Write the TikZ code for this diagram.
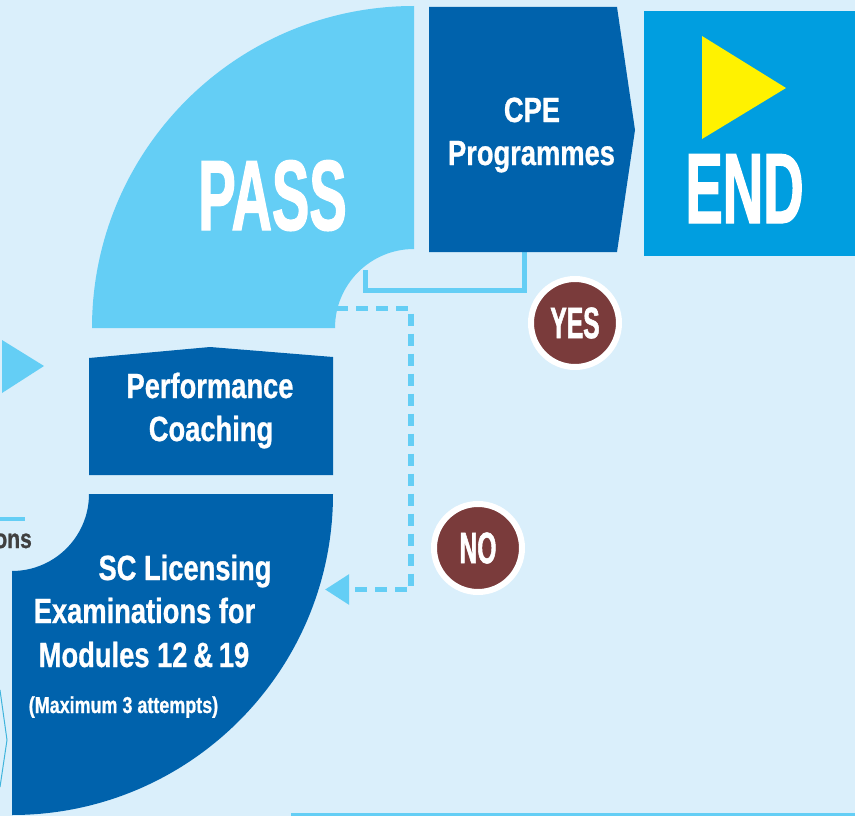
\documentclass[tikz,border=0pt]{standalone}
\usepackage{fontspec}
\setmainfont{Liberation Sans}
\newfontfamily\condfont[FakeStretch=0.78,FakeBold=0.8]{Liberation Sans}
\newfontfamily\tallfont[FakeStretch=0.56,FakeBold=1.2]{Liberation Sans}
\usetikzlibrary{arrows.meta}
\definecolor{bgblue}{HTML}{DAEFFB}
\definecolor{passblue}{HTML}{64CEF5}
\definecolor{darkblue}{HTML}{0062AC}
\definecolor{endblue}{HTML}{009EE0}
\definecolor{endyellow}{HTML}{FFF200}
\definecolor{answerbrown}{HTML}{7A3B3B}
\definecolor{onsgray}{HTML}{404040}
\definecolor{edgecyan}{HTML}{3FB4DC}
\begin{document}
\begin{tikzpicture}[x=1pt,y=-1pt,
    lbl/.style={text=white,inner sep=0pt,anchor=base,
      font=\condfont\bfseries\fontsize{35}{42}\selectfont},
    smalllbl/.style={lbl,font=\condfont\bfseries\fontsize{23}{23}\selectfont},
    biglbl/.style={text=white,inner sep=0pt,anchor=base,
      font=\tallfont\bfseries\fontsize{100}{100}\selectfont},
    answer/.style={circle,fill=answerbrown,draw=white,line width=6pt,
      minimum size=88pt,inner sep=0pt,text=white,
      font=\tallfont\bfseries\fontsize{44}{44}\selectfont},
    linkline/.style={draw=passblue,line width=5pt},
    noline/.style={draw=passblue,line width=5.5pt,dash pattern=on 12pt off 8pt,
      -{Triangle[length=24pt,width=29pt]}}]
  \fill[bgblue] (0,0) rectangle (855,816);
  \useasboundingbox (0,0) rectangle (855,816);

  \coordinate (passfoot) at (365.5,270);
  \coordinate (yesbend) at (365.5,290.5);
  \coordinate (cpefoot) at (524.5,250);
  \coordinate (passno) at (336,308.5);
  \coordinate (nobend) at (411,308.5);
  \coordinate (scarrow) at (325,589.5);
  \draw[linkline] (passfoot) -- (yesbend) -| (cpefoot);
  \draw[noline] (passno) -- (nobend) |- (scarrow);

  \fill[passblue] (414,6) arc[start angle=270,end angle=180,radius=322]
    -- (335,328) arc[start angle=180,end angle=270,radius=79] -- cycle;
  \fill[darkblue] (429,7) -- (617,7) -- (635,130) -- (617,252) -- (429,252) -- cycle;
  \fill[endblue] (644,11) rectangle (855,256);
  \fill[endyellow] (702,36) -- (786,88) -- (702,139) -- cycle;
  \fill[darkblue] (89,475) -- (89,358) -- (210,347) -- (333,357) -- (333,475) -- cycle;
  \fill[darkblue] (333,494) -- (89,494) arc[start angle=0,end angle=90,radius=77]
    -- (12,815) arc[start angle=90,end angle=0,radius=321] -- cycle;

  \fill[passblue] (2,340) -- (44,366) -- (2,393) -- cycle;
  \draw[passblue,line width=4pt] (0,519) -- (25,519);
  \draw[edgecyan,line width=1pt] (0,690) -- (7,740) -- (0,787);
  \fill[passblue] (291,813) rectangle (855,816);

  \node[biglbl] (pass) at (272.5,230) {PASS};
  \node[biglbl] (finish) at (744.5,223) {END};
  \node[lbl] (cpe) at (532,122) {CPE};
  \node[lbl] (programmes) at (531.5,165) {Programmes};
  \node[lbl] (perf) at (210,398) {Performance};
  \node[lbl] (coaching) at (211,441) {Coaching};
  \node[lbl] (sclic) at (185,580) {SC Licensing};
  \node[lbl] (exams) at (144.5,623) {Examinations for};
  \node[lbl] (modules) at (144,667) {Modules 12\,\&\,19};
  \node[smalllbl] (attempts) at (123.5,713) {(Maximum 3 attempts)};
  \node[lbl,anchor=base east,text=onsgray,
    font=\condfont\bfseries\fontsize{27}{27}\selectfont] (ons) at (32,548) {ons};
  \node[answer] (yes) at (575,323) {YES};
  \node[answer] (no) at (478,548) {NO};
\end{tikzpicture}
\end{document}
